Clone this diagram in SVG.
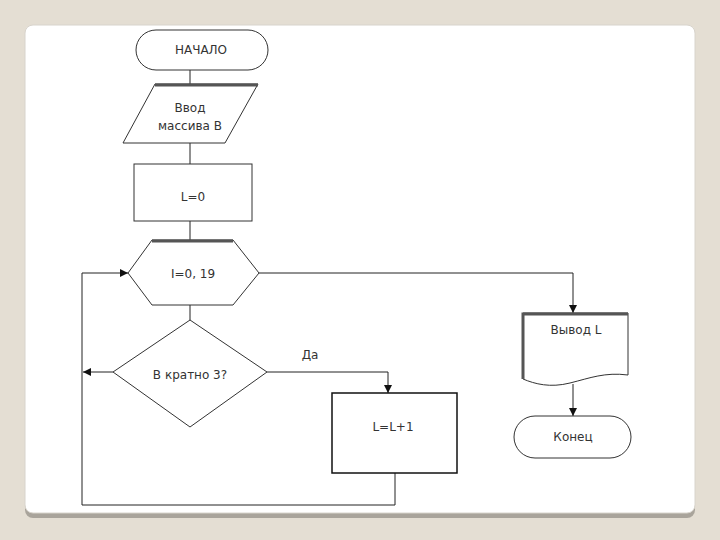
<svg xmlns="http://www.w3.org/2000/svg" width="720" height="540" viewBox="0 0 720 540">
<style>
.s{fill:#fff;stroke:#333;stroke-width:1}
.t{font-family:"DejaVu Sans",Verdana,sans-serif;font-size:12px;fill:#333;text-anchor:middle}
.c{fill:none;stroke:#222;stroke-width:1}
.thick{fill:none;stroke:#555;stroke-width:3}
</style>
<defs>
<marker id="a" viewBox="0 0 10 10" refX="10" refY="5" markerWidth="8" markerHeight="8" orient="auto" markerUnits="userSpaceOnUse">
<path d="M0,0 L10,5 L0,10 z" fill="#111"/>
</marker>
</defs>
<rect x="0" y="0" width="720" height="540" fill="#e4ded3"/>
<rect x="25" y="27" width="670" height="491" rx="8" fill="#a9a49b"/>
<rect x="25" y="25" width="670" height="488" rx="8" fill="#fff" stroke="#d8d4cc" stroke-width="1"/>
<g id="connectors">
<path class="c" d="M190,70 V84"/>
<path class="c" d="M190,143 V164"/>
<path class="c" d="M190,221 V240"/>
<path class="c" d="M190,305 V320"/>
<path class="c" d="M259,273 H573 V313" marker-end="url(#a)"/>
<path class="c" d="M113,372 H83" marker-end="url(#a)"/>
<path class="c" d="M267,372 H388 V393" marker-end="url(#a)"/>
<path class="c" d="M395,473 V505 H82 V273 H128" marker-end="url(#a)"/>
<path class="c" d="M573,384 V416" marker-end="url(#a)"/>
<text class="t" x="310" y="359">Да</text>
</g>
<g id="start">
<rect class="s" x="136" y="30" width="132" height="40" rx="20"/>
<text class="t" x="201" y="54">НАЧАЛО</text>
</g>
<g id="input">
<polygon class="s" points="155,84 258,84 225,143 123,143"/>
<path class="thick" d="M155,85 H258"/>
<text class="t" x="190" y="112">Ввод</text>
<text class="t" x="190" y="130">массива В</text>
</g>
<g id="init">
<rect class="s" x="134" y="164" width="118" height="57"/>
<text class="t" x="193" y="201">L=0</text>
</g>
<g id="loop">
<polygon class="s" points="152,240 233,240 259,273 233,305 152,305 128,273"/>
<path class="thick" d="M152,241 H233"/>
<text class="t" x="193" y="278">I=0, 19</text>
</g>
<g id="cond">
<polygon class="s" points="190,320 267,372 190,427 113,372"/>
<text class="t" x="190" y="379">В кратно 3?</text>
</g>
<g id="inc">
<rect x="332" y="393" width="125" height="80" fill="#fff" stroke="#111" stroke-width="1.5"/>
<text class="t" x="393" y="431">L=L+1</text>
</g>
<g id="output">
<path class="s" d="M523,313 H628 V375 C605,372 590,378 570,383 C550,388 535,384 523,379 Z"/>
<path class="thick" d="M523,379 V314 H628"/>
<text class="t" x="576" y="334">Вывод  L</text>
</g>
<g id="end">
<rect class="s" x="514" y="416" width="117" height="42" rx="21"/>
<text class="t" x="573" y="441">Конец</text>
</g>
</svg>
